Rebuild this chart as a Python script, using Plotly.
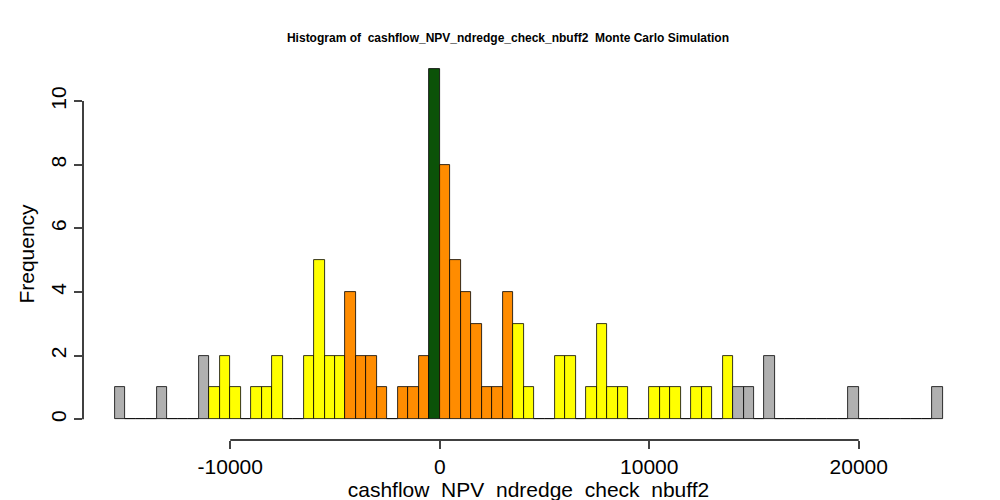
import plotly.graph_objects as go

bin_width = 500
bin_start = -15500
counts = [1, 0, 0, 0, 1, 0, 0, 0, 2, 1, 2, 1, 0, 1, 1, 2, 0, 0, 2, 5,
          2, 2, 4, 2, 2, 1, 0, 1, 1, 2, 11, 8, 5, 4, 3, 1, 1, 4, 3, 1,
          0, 0, 2, 2, 0, 1, 3, 1, 1, 0, 0, 1, 1, 1, 0, 1, 1, 0, 2, 1,
          1, 0, 2, 0, 0, 0, 0, 0, 0, 0, 1, 0, 0, 0, 0, 0, 0, 0, 1]
x_ticks = [-10000, 0, 10000, 20000]
y_ticks = [0, 2, 4, 6, 8, 10]

lefts = [bin_start + i * bin_width for i in range(len(counts))]
centers = [l + bin_width / 2 for l in lefts]

def colour(l):
    if l == -500:
        return "#0b5208"
    if -4500 <= l <= -1000 or 0 <= l <= 3000:
        return "#ff8c00"
    if -11000 <= l <= -5000 or 3500 <= l <= 13500:
        return "#ffff00"
    return "#b0b0b0"

fig = go.Figure(go.Bar(x=centers, y=counts, width=bin_width,
                       marker=dict(color=[colour(l) for l in lefts],
                                   line=dict(color="black", width=0.8))))

fig.update_layout(
    width=1000, height=500, showlegend=False,
    margin=dict(l=75, r=34, t=60, b=68),
    plot_bgcolor="white", paper_bgcolor="white",
    font=dict(family="Liberation Sans", color="black"),
    title=dict(text="<b>Histogram of  cashflow_NPV_ndredge_check_nbuff2  Monte Carlo Simulation</b>",
               x=0.5, xanchor="center", y=0.94, yanchor="middle", font=dict(size=12)),
    bargap=0,
)
fig.update_xaxes(range=[-17027, 25500], tickvals=x_ticks, ticktext=[str(v) for v in x_ticks],
                 ticks="outside", ticklen=8, tickwidth=1.5, tickfont=dict(size=21),
                 showgrid=False, zeroline=False, automargin=False,
                 title=dict(text="cashflow_NPV_ndredge_check_nbuff2", font=dict(size=21), standoff=4))
fig.update_yaxes(range=[-0.65, 11.04], tickvals=y_ticks, tickangle=-90,
                 ticks="outside", ticklen=8, tickwidth=1.5, tickfont=dict(size=21),
                 showgrid=False, zeroline=False, automargin=False,
                 title=dict(text="Frequency", font=dict(size=21), standoff=6))
fig.add_shape(type="line", xref="x", yref="paper", x0=-10000, x1=20000, y0=0, y1=0,
              line=dict(color="black", width=1.5))
fig.add_shape(type="line", xref="paper", yref="y", x0=0, x1=0, y0=0, y1=10,
              line=dict(color="black", width=1.5))

fig.write_html("out.html")
